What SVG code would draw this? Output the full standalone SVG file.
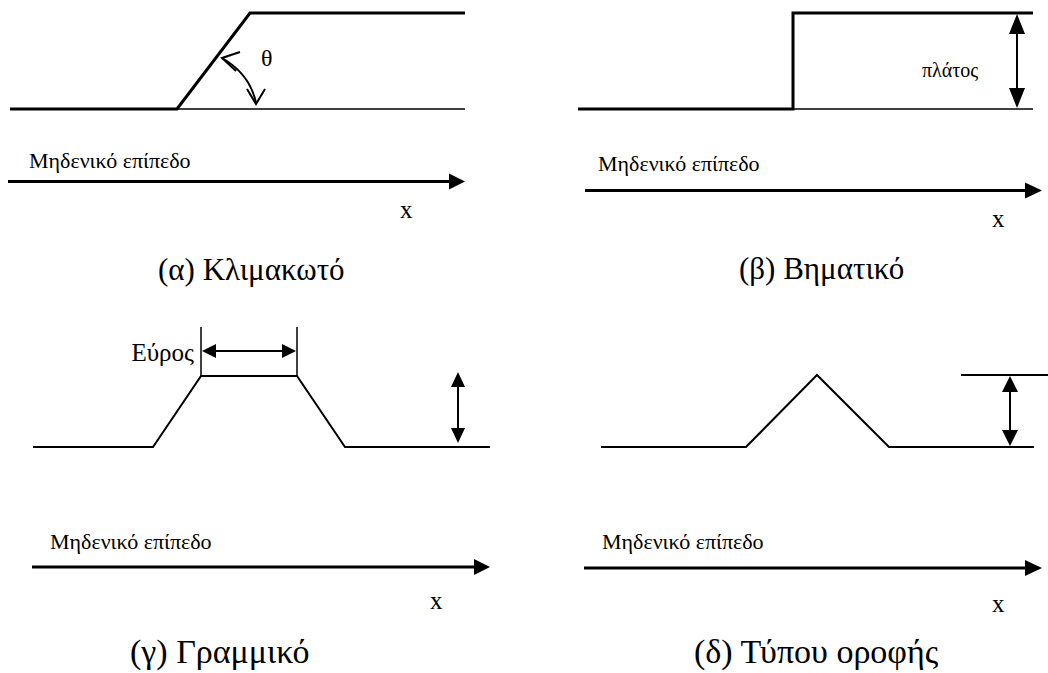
<svg xmlns="http://www.w3.org/2000/svg" width="1048" height="673" viewBox="0 0 1048 673">
<style>
.thick{fill:none;stroke:#000;stroke-width:3;stroke-linejoin:miter}
.thin{fill:none;stroke:#000;stroke-width:1.5}
.med{fill:none;stroke:#000;stroke-width:2}
.small{font-size:22px}
.x{font-size:25px}
.cap{font-size:31px}
.cap2{font-size:34px}
.head{fill:#000;stroke:none}
</style>
<rect width="1048" height="673" fill="#fff"/>
<g id="connectors">
  <line class="thick" x1="8" y1="181.5" x2="451" y2="181.5"/>
  <polygon class="head" points="465,181.5 449,173.5 449,189.5"/>
  <line class="thick" x1="585" y1="190.5" x2="1027" y2="190.5"/>
  <polygon class="head" points="1042,190.5 1025,182.5 1025,198.5"/>
  <line class="thick" x1="32" y1="567" x2="476" y2="567"/>
  <polygon class="head" points="490,567 474,559 474,575"/>
  <line class="thick" x1="584" y1="568" x2="1027" y2="568"/>
  <polygon class="head" points="1042,568 1025,560 1025,576"/>
  <path class="med" d="M222,58 Q250,74 256,103"/>
  <path class="med" d="M240,52 L222,58 L236,71"/>
  <path class="med" d="M247,89 L256,104 L265,89"/>
  <line class="med" x1="1017" y1="28" x2="1017" y2="94"/>
  <polygon class="head" points="1017,14 1009,34 1025,34"/>
  <polygon class="head" points="1017,108 1009,88 1025,88"/>
  <line class="med" x1="214" y1="351" x2="284" y2="351"/>
  <polygon class="head" points="202,351 216,344 216,358"/>
  <polygon class="head" points="296,351 282,344 282,358"/>
  <line class="med" x1="458" y1="384" x2="458" y2="431"/>
  <polygon class="head" points="458,372 451,387 465,387"/>
  <polygon class="head" points="458,443 451,428 465,428"/>
  <line class="med" x1="1010" y1="388" x2="1010" y2="434"/>
  <polygon class="head" points="1010,376 1002,392 1018,392"/>
  <polygon class="head" points="1010,446 1002,430 1018,430"/>
</g>
<g id="panel-a" font-family="Liberation Serif, Times New Roman, DejaVu Serif, serif">
  <path class="thick" d="M10,109 L177,109 L250,13 L465,13"/>
  <line class="thin" x1="177" y1="109" x2="465" y2="109"/>
  <text x="261" y="66" font-size="24">θ</text>
  <text class="small" x="29" y="168">Μηδενικό επίπεδο</text>
  <text class="x" x="400" y="218">x</text>
  <text class="cap" x="158" y="280">(α) Κλιμακωτό</text>
</g>
<g id="panel-b" font-family="Liberation Serif, Times New Roman, DejaVu Serif, serif">
  <path class="thick" d="M578,109 L793,109 L793,13 L1033,13"/>
  <line class="thin" x1="793" y1="109" x2="1033" y2="109"/>
  <text x="922" y="77" font-size="20">πλάτος</text>
  <text class="small" x="598" y="171">Μηδενικό επίπεδο</text>
  <text class="x" x="992" y="227">x</text>
  <text class="cap" x="739" y="279">(β) Βηματικό</text>
</g>
<g id="panel-c" font-family="Liberation Serif, Times New Roman, DejaVu Serif, serif">
  <path class="med" d="M33,447 L153,447 L201,376 L297,376 L345,447 L490,447"/>
  <line class="thin" x1="201" y1="327" x2="201" y2="376"/>
  <line class="thin" x1="297" y1="327" x2="297" y2="376"/>
  <text x="194" y="361" font-size="25" text-anchor="end">Εύρος</text>
  <text class="small" x="50" y="549">Μηδενικό επίπεδο</text>
  <text class="x" x="430" y="609">x</text>
  <text class="cap2" x="130" y="663">(γ) Γραμμικό</text>
</g>
<g id="panel-d" font-family="Liberation Serif, Times New Roman, DejaVu Serif, serif">
  <path class="med" d="M601,447 L746,447 L817,375 L889,447 L1034,447"/>
  <line class="med" x1="961" y1="375" x2="1048" y2="375"/>
  <text class="small" x="602" y="549">Μηδενικό επίπεδο</text>
  <text class="x" x="992" y="612">x</text>
  <text class="cap2" x="694" y="663">(δ) Τύπου οροφής</text>
</g>
</svg>
